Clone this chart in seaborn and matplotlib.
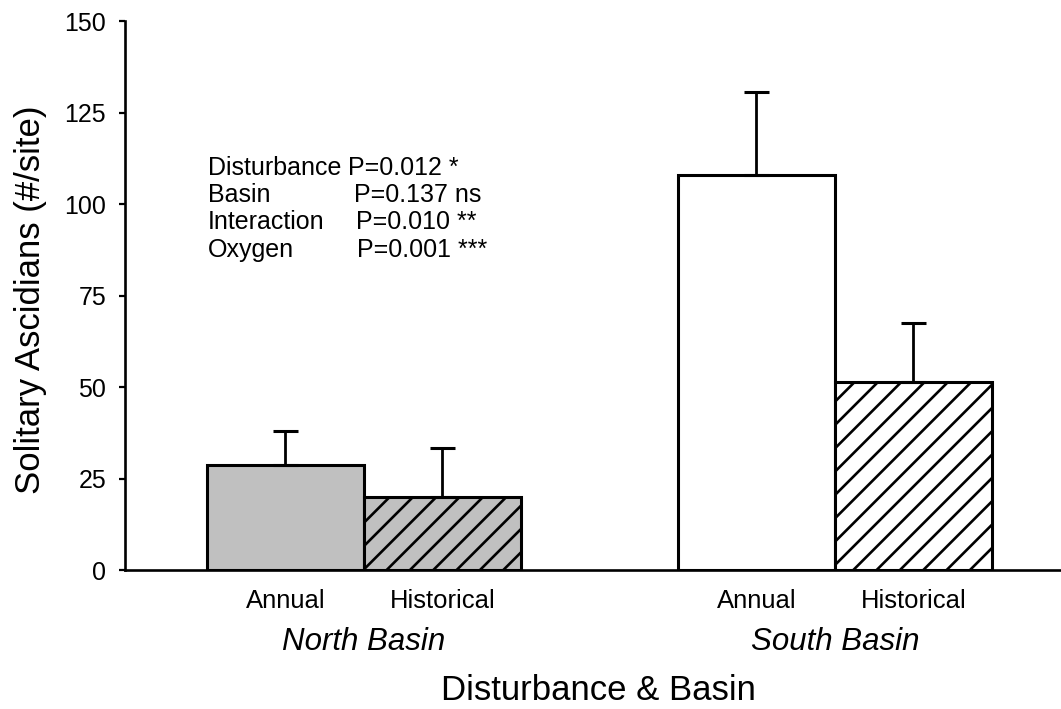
import numpy as np
import pandas as pd
import matplotlib
matplotlib.use("Agg")
import matplotlib.pyplot as plt
import seaborn as sns

# values
basin = ["North Basin", "North Basin", "South Basin", "South Basin"]
disturbance = ["Annual", "Historical", "Annual", "Historical"]
mean_count = [28.7, 20.0, 107.9, 51.5]
se_count = [9.3, 13.4, 22.8, 15.9]

terms = ["Disturbance", "Basin", "Interaction", "Oxygen"]
pvals = ["P=0.012 *", "P=0.137 ns", "P=0.010 **", "P=0.001 ***"]

df = pd.DataFrame({"basin": basin, "disturbance": disturbance,
                   "count": mean_count, "se": se_count})

# drawn at 140 dpi so the '//' hatch gets the wider spacing of the original;
# sizes below are written as if at 100 dpi and scaled by k
DPI = 140
k = 100 / DPI

sns.set_style("ticks")
plt.rcParams['font.family'] = ['Liberation Sans', 'DejaVu Sans']
plt.rcParams['hatch.linewidth'] = 1.9 * k
plt.rcParams['text.color'] = 'black'
plt.rcParams['axes.labelcolor'] = 'black'
plt.rcParams['xtick.color'] = 'black'
plt.rcParams['ytick.color'] = 'black'
plt.rcParams['axes.edgecolor'] = 'black'

fig = plt.figure(figsize=(1061 / DPI, 709 / DPI), dpi=DPI)
ax = fig.add_axes([0.1178, 0.196, 0.8822, 0.774])

sns.barplot(data=df, x="basin", y="count", hue="disturbance",
            width=2/3, errorbar=None, legend=False, ax=ax)

# style each bar (sorted left to right)
fills = ["#c0c0c0", "#c0c0c0", "white", "white"]
hatches = ["", "//", "", "//"]
bars = sorted([p for p in ax.patches if p.get_height() > 0], key=lambda p: p.get_x())
centers = []
for p, fc, h in zip(bars, fills, hatches):
    p.set_facecolor(fc)
    p.set_edgecolor("black")
    p.set_linewidth(2.2 * k)
    p.set_hatch(h)
    centers.append(p.get_x() + p.get_width() / 2)

# upper error bars only
ax.errorbar(centers, df["count"], yerr=[np.zeros(len(df)), df["se"]],
            fmt="none", ecolor="black", elinewidth=2 * k, capsize=9 * k,
            capthick=2.2 * k, zorder=1)

ax.set_ylim(0, 150)
ax.set_xlim(-0.507, 1.48)
ax.set_yticks([0, 25, 50, 75, 100, 125, 150])
ax.tick_params(axis="y", labelsize=18 * k, length=4.5 * k, width=1.6 * k,
               pad=9 * k, direction="out")

ax.set_xticks([0, 1], ["North Basin", "South Basin"])
ax.set_xticks(centers, disturbance, minor=True)
ax.tick_params(axis="x", which="major", length=0, labelsize=22.5 * k, pad=41 * k)
ax.tick_params(axis="x", which="minor", length=0, labelsize=18.5 * k, pad=14 * k)
for lab in ax.get_xticklabels():
    lab.set_style("italic")

sns.despine(ax=ax)
for s in ["left", "bottom"]:
    ax.spines[s].set_linewidth(1.9 * k)

ax.set_xlabel("Disturbance & Basin", fontsize=25 * k)
ax.set_ylabel("Solitary Ascidians (#/site)", fontsize=25 * k)
ax.xaxis.set_label_coords(0.506, -0.19)
ax.yaxis.set_label_coords(-0.083, 0.492)

# ANOVA summary
ys = [107.9, 100.5, 93.1, 85.7]
px = [-0.034, -0.021, -0.017, -0.015]
for t, p, y, x in zip(terms, pvals, ys, px):
    ax.text(-0.331, y, t, fontsize=18 * k, va="baseline", ha="left")
    ax.text(x, y, p, fontsize=18 * k, va="baseline", ha="left")

fig.savefig("out.png", dpi=DPI)
